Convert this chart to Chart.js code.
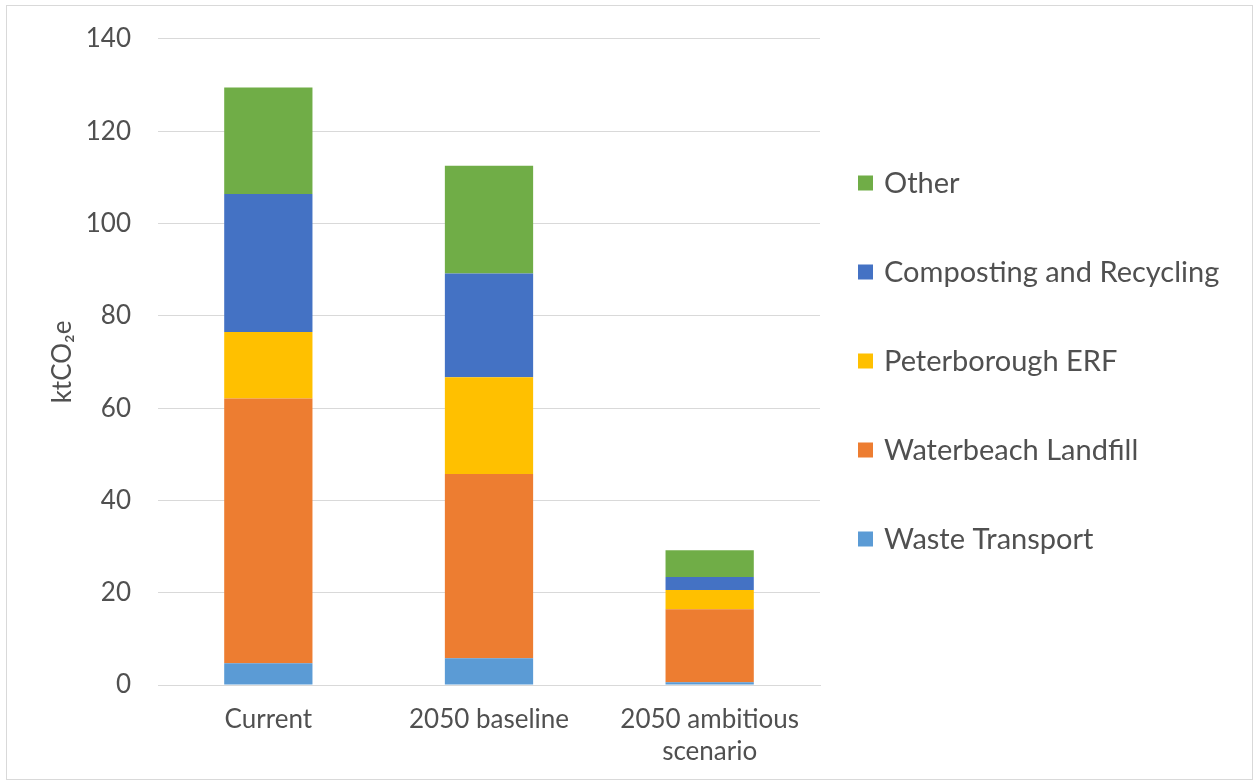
<!DOCTYPE html>
<html>
<head>
<meta charset="utf-8">
<script src="https://cdn.jsdelivr.net/npm/chart.js@4.4.1/dist/chart.umd.min.js"></script>
<style>
  html, body { margin: 0; padding: 0; background: #ffffff; }
  #frame { position: absolute; left: 6px; top: 5px; width: 1245px; height: 773px; border: 1px solid #d9d9d9; }
  #wrap { position: absolute; left: 0; top: 0; width: 1258px; height: 783px; }
</style>
</head>
<body>
<div id="frame"></div>
<div id="wrap"><canvas id="c" width="1258" height="783"></canvas></div>
<script>
const categories = [["Current"], ["2050 baseline"], ["2050 ambitious", "scenario"]];
const seriesNames = ["Waste Transport", "Waterbeach Landfill", "Peterborough ERF", "Composting and Recycling", "Other"];
const wasteTransport = [4.7, 5.8, 0.6];
const waterbeachLandfill = [57.4, 39.9, 15.8];
const peterboroughERF = [14.4, 21.0, 4.2];
const compostingRecycling = [29.9, 22.5, 2.8];
const other = [23.1, 23.3, 5.8];
const yTicks = [0, 20, 40, 60, 80, 100, 120, 140];
const colors = ["#5B9BD5", "#ED7D31", "#FFC000", "#4472C4", "#70AD47"];

const seriesValues = [wasteTransport, waterbeachLandfill, peterboroughERF, compostingRecycling, other];
const FONT = "Lato, 'Open Sans', sans-serif";
const TEXT = "#505050";

const legendPlugin = {
  id: 'rightLegend',
  afterDraw(chart) {
    const ctx = chart.ctx;
    const ds = chart.data.datasets;
    const startY = 183, step = 89, boxX = 858, box = 15, textX = 884;
    ctx.save();
    ctx.font = "29px " + FONT;
    ctx.textBaseline = 'middle';
    ctx.textAlign = 'left';
    for (let i = 0; i < ds.length; i++) {
      const d = ds[ds.length - 1 - i];
      const y = startY + i * step;
      ctx.fillStyle = d.backgroundColor;
      ctx.fillRect(boxX, y - box / 2, box, box);
      ctx.fillStyle = TEXT;
      ctx.fillText(d.label, textX, y + 1);
    }
    ctx.restore();
  }
};

new Chart(document.getElementById('c'), {
  type: 'bar',
  data: {
    labels: categories,
    datasets: seriesNames.map((n, i) => ({
      label: n,
      data: seriesValues[i],
      backgroundColor: colors[i],
      borderWidth: 0,
      barPercentage: 0.4,
      categoryPercentage: 1.0
    }))
  },
  options: {
    responsive: false,
    animation: false,
    devicePixelRatio: 1,
    layout: { padding: { left: 0, right: 438, top: 34, bottom: 0 } },
    plugins: { legend: { display: false }, tooltip: { enabled: false } },
    scales: {
      x: {
        stacked: true,
        grid: { display: false, drawTicks: false },
        border: { display: true, color: '#d9d9d9', width: 1 },
        ticks: { color: TEXT, font: { family: FONT, size: 26, lineHeight: 1.23 }, padding: 19, maxRotation: 0, autoSkip: false },
        afterFit(s) { s.height = 98; }
      },
      y: {
        stacked: true,
        min: 0, max: 140,
        afterBuildTicks(s) { s.ticks = yTicks.map(v => ({ value: v })); },
        grid: { color: '#d9d9d9', lineWidth: 1, drawTicks: false },
        border: { display: false },
        ticks: { color: TEXT, font: { family: FONT, size: 26, lineHeight: 0.92 }, padding: 27 },
        title: { display: true, text: 'ktCO\u2082e', color: TEXT, font: { family: FONT, size: 26 }, padding: { top: 47, bottom: 0 } },
        afterFit(s) { s.width = 158; }
      }
    }
  },
  plugins: [legendPlugin]
});
</script>
</body>
</html>
